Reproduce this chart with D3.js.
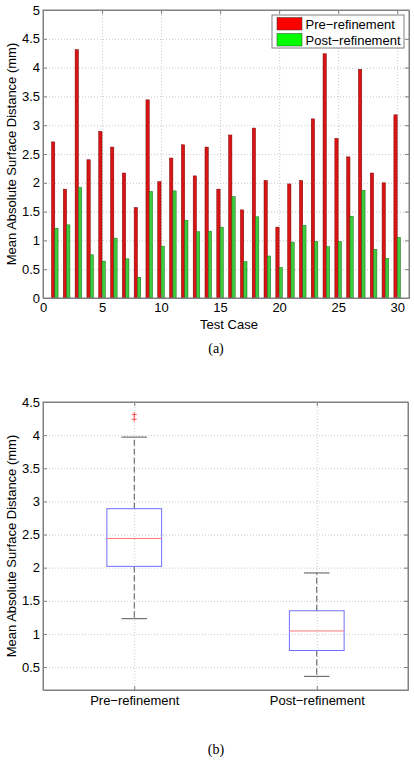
<!DOCTYPE html>
<html><head><meta charset="utf-8">
<script src="https://cdn.jsdelivr.net/npm/d3@7"></script>
<style>
body{margin:0;background:#fff;}
svg{display:block;}
text{font-family:"Liberation Sans",Arial,sans-serif;}
</style></head>
<body>
<svg id="c" width="414" height="762"></svg>
<script>
// ---- data ----
const testCases = d3.range(1, 31);
const preRefinement = [2.71,1.89,4.31,2.40,2.89,2.62,2.17,1.57,3.44,2.02,2.43,2.66,2.12,2.62,1.89,2.83,1.53,2.95,2.04,1.23,1.98,2.04,3.11,4.24,2.77,2.45,3.97,2.17,2.00,3.18];
const postRefinement = [1.21,1.27,1.92,0.75,0.64,1.04,0.68,0.36,1.85,0.90,1.86,1.35,1.15,1.16,1.23,1.76,0.63,1.41,0.73,0.53,0.97,1.26,0.98,0.89,0.98,1.42,1.87,0.845,0.69,1.05];
const seriesNames = ["Pre\u2212refinement","Post\u2212refinement"];
const topXTicks = [0,5,10,15,20,25,30];
const topYTicks = [0,0.5,1,1.5,2,2.5,3,3.5,4,4.5,5];
const boxYTicks = [0.5,1,1.5,2,2.5,3,3.5,4,4.5];
const yLabel = "Mean Absolute Surface Distance (mm)";

const svg = d3.select("#c");
const gridColor = "#c8c8c8";
const axisColor = "#808080";

function styleAxis(g){
  g.selectAll("path.domain").attr("stroke", axisColor);
  g.selectAll(".tick line").attr("stroke", axisColor);
  g.selectAll("text").attr("fill","#000").style("font-size","13px").style("font-family","'Liberation Sans',Arial,sans-serif");
}
function styleGrid(g){
  g.selectAll("path.domain").remove();
  g.selectAll(".tick line").attr("stroke", gridColor).attr("stroke-dasharray","1,2");
}

// ================= (a) bar chart =================
const L=43, R=409, T=10, B=298;
const x = d3.scaleLinear().domain([0,31]).range([L,R]);
const y = d3.scaleLinear().domain([0,5]).range([B,T]);

svg.append("g").attr("transform",`translate(0,${B})`)
  .call(d3.axisBottom(x).tickValues(topXTicks).tickSize(-(B-T)).tickFormat("")).call(styleGrid);
svg.append("g").attr("transform",`translate(${L},0)`)
  .call(d3.axisLeft(y).tickValues(topYTicks).tickSize(-(R-L)).tickFormat("")).call(styleGrid);

const bw = 0.28;
svg.append("g").selectAll("rect").data(testCases).join("rect")
  .attr("x", d => x(d - bw)).attr("width", x(bw) - x(0))
  .attr("y", (d,i) => y(preRefinement[i])).attr("height", (d,i) => y(0) - y(preRefinement[i]))
  .attr("fill","#d91414").attr("stroke","#7a0000").attr("stroke-width",0.5);
svg.append("g").selectAll("rect").data(testCases).join("rect")
  .attr("x", d => x(d)).attr("width", x(bw) - x(0))
  .attr("y", (d,i) => y(postRefinement[i])).attr("height", (d,i) => y(0) - y(postRefinement[i]))
  .attr("fill","#3ccc3c").attr("stroke","#1a6a1a").attr("stroke-width",0.5);

svg.append("g").attr("transform",`translate(0,${B})`)
  .call(d3.axisBottom(x).tickValues(topXTicks).tickSizeInner(-4).tickSizeOuter(0).tickPadding(5)).call(styleAxis);
svg.append("g").attr("transform",`translate(0,${T})`)
  .call(d3.axisTop(x).tickValues(topXTicks).tickSizeInner(-4).tickSizeOuter(0).tickFormat("")).call(styleAxis);
svg.append("g").attr("transform",`translate(${L},0)`)
  .call(d3.axisLeft(y).tickValues(topYTicks).tickSizeInner(-4).tickSizeOuter(0).tickPadding(3).tickFormat(d3.format("~g"))).call(styleAxis);
svg.append("g").attr("transform",`translate(${R},0)`)
  .call(d3.axisRight(y).tickValues(topYTicks).tickSizeInner(-4).tickSizeOuter(0).tickFormat("")).call(styleAxis);

svg.append("text").attr("x",(L+R)/2 + 3).attr("y",329).attr("text-anchor","middle")
  .style("font-size","13px").text("Test Case");
svg.append("text").attr("transform",`translate(16,${(T+B)/2}) rotate(-90)`).attr("text-anchor","middle")
  .style("font-size","13px").text(yLabel);
svg.append("text").attr("x",216).attr("y",353).attr("text-anchor","middle")
  .style("font-family","'Liberation Serif','Times New Roman',serif").style("font-size","14px").text("(a)");

// legend
const lg = svg.append("g");
lg.append("rect").attr("x",272).attr("y",15).attr("width",132).attr("height",33)
  .attr("fill","#fff").attr("stroke",axisColor).attr("stroke-width",1);
const legColors = ["#ff0000","#00ff00"];
seriesNames.forEach((n,i)=>{
  lg.append("rect").attr("x",277).attr("y",17.5+i*16).attr("width",25).attr("height",12.5)
    .attr("fill",legColors[i]).attr("stroke","#333").attr("stroke-width",0.5);
  lg.append("text").attr("x",305.5).attr("y",28.5+i*16).style("font-size","13px").text(n);
});

// ================= (b) box plot =================
const L2=43, R2=408, T2=402, B2=690;
const xb = d3.scaleLinear().domain([0.5,2.5]).range([L2,R2]);
const yb = d3.scaleLinear().domain([0.154,4.5]).range([B2,T2]);

svg.append("g").attr("transform",`translate(0,${B2})`)
  .call(d3.axisBottom(xb).tickValues([1,2]).tickSize(-(B2-T2)).tickFormat("")).call(styleGrid);
svg.append("g").attr("transform",`translate(${L2},0)`)
  .call(d3.axisLeft(yb).tickValues(boxYTicks).tickSize(-(R2-L2)).tickFormat("")).call(styleGrid);

function prctile(s, p){
  const n = s.length, pos = p*n + 0.5;
  if (pos <= 1) return s[0];
  if (pos >= n) return s[n-1];
  const lo = Math.floor(pos);
  return s[lo-1] + (pos-lo)*(s[lo]-s[lo-1]);
}
function boxStats(arr){
  const s = arr.slice().sort((a,b)=>a-b);
  const q1 = prctile(s,0.25), med = prctile(s,0.5), q3 = prctile(s,0.75);
  const iqr = q3-q1, lf = q1-1.5*iqr, uf = q3+1.5*iqr;
  const inl = s.filter(v=>v>=lf && v<=uf);
  return {q1,med,q3,lo:d3.min(inl),hi:d3.max(inl),out:s.filter(v=>v<lf||v>uf)};
}
const groups = [preRefinement, postRefinement];
const boxW = 0.3, capW = 0.14;
groups.forEach((arr,i)=>{
  const st = boxStats(arr), cx = i+1;
  const g = svg.append("g");
  g.append("line").attr("x1",xb(cx)).attr("x2",xb(cx)).attr("y1",yb(st.q3)).attr("y2",yb(st.hi))
    .attr("stroke","#555").attr("stroke-dasharray","6,3");
  g.append("line").attr("x1",xb(cx)).attr("x2",xb(cx)).attr("y1",yb(st.q1)).attr("y2",yb(st.lo))
    .attr("stroke","#555").attr("stroke-dasharray","6,3");
  [st.hi, st.lo].forEach(v=>{
    g.append("line").attr("x1",xb(cx-capW/2)).attr("x2",xb(cx+capW/2)).attr("y1",yb(v)).attr("y2",yb(v))
      .attr("stroke","#555");
  });
  g.append("rect").attr("x",xb(cx-boxW/2)).attr("width",xb(boxW)-xb(0))
    .attr("y",yb(st.q3)).attr("height",yb(st.q1)-yb(st.q3))
    .attr("fill","none").attr("stroke","#6f6fff").attr("stroke-width",1);
  g.append("line").attr("x1",xb(cx-boxW/2)).attr("x2",xb(cx+boxW/2)).attr("y1",yb(st.med)).attr("y2",yb(st.med))
    .attr("stroke","#ff7777").attr("stroke-width",1);
  st.out.forEach(v=>{
    g.append("path").attr("d",`M${xb(cx)-2.5},${yb(v)}h5M${xb(cx)},${yb(v)-2.5}v5`)
      .attr("stroke","#ff4040").attr("stroke-width",0.9);
  });
});

svg.append("g").attr("transform",`translate(0,${B2})`)
  .call(d3.axisBottom(xb).tickValues([1,2]).tickSizeInner(-4).tickSizeOuter(0).tickPadding(6).tickFormat((d,i)=>seriesNames[i])).call(styleAxis);
svg.append("g").attr("transform",`translate(0,${T2})`)
  .call(d3.axisTop(xb).tickValues([1,2]).tickSizeInner(-4).tickSizeOuter(0).tickFormat("")).call(styleAxis);
svg.append("g").attr("transform",`translate(${L2},0)`)
  .call(d3.axisLeft(yb).tickValues(boxYTicks).tickSizeInner(-4).tickSizeOuter(0).tickPadding(3).tickFormat(d3.format("~g"))).call(styleAxis);
svg.append("g").attr("transform",`translate(${R2},0)`)
  .call(d3.axisRight(yb).tickValues(boxYTicks).tickSizeInner(-4).tickSizeOuter(0).tickFormat("")).call(styleAxis);
svg.append("rect").attr("x",L2).attr("y",T2).attr("width",R2-L2).attr("height",B2-T2)
  .attr("fill","none").attr("stroke",axisColor);
svg.append("rect").attr("x",L).attr("y",T).attr("width",R-L).attr("height",B-T)
  .attr("fill","none").attr("stroke",axisColor);

svg.append("text").attr("transform",`translate(16,${(T2+B2)/2}) rotate(-90)`).attr("text-anchor","middle")
  .style("font-size","13px").text(yLabel);
svg.append("text").attr("x",216).attr("y",754).attr("text-anchor","middle")
  .style("font-family","'Liberation Serif','Times New Roman',serif").style("font-size","14px").text("(b)");
</script>
</body></html>
